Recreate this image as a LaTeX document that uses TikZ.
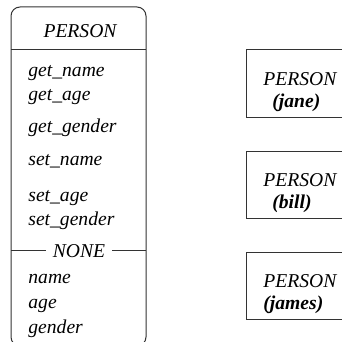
\documentclass[tikz,border=0pt]{standalone}
\usepackage{fontspec}
\setmainfont{Liberation Serif}
\usepackage{tikz}

\begin{document}
\begin{tikzpicture}[x=0.5pt,y=-0.5pt,
  boxline/.style={draw=black!80,line width=0.5pt},
  entry/.style={anchor=base west,inner sep=0pt,font=\fontsize{9.8}{12}\selectfont\itshape},
  objname/.style={entry,font=\fontsize{9.8}{12}\selectfont\bfseries\itshape}]
\useasboundingbox (0,0) rectangle (342,342);

% class box
\draw[boxline,rounded corners=4.5pt] (11,7) rectangle (146,346);
\coordinate (cl) at (11,0);
\coordinate (cr) at (146,0);
\node[entry,anchor=base] (title) at (80,38) {PERSON};
\draw[boxline] (11,50) -- (146,50);

\foreach \y/\m [count=\i] in {76/get\_name,100/get\_age,133/get\_gender,
                              165/set\_name,201/set\_age,225/set\_gender}
  \node[entry] (op\i) at (28,\y) {\m};

\node[entry,anchor=base,inner sep=3.3pt] (none) at (79,257) {NONE};
\draw[boxline] (none.west) -- (none.west -| cl);
\draw[boxline] (none.east) -- (none.east -| cr);

\foreach \y/\a in {283/name,308/age,333/gender}
  \node[entry] (\a) at (28,\y) {\a};

% objects
\foreach \t/\nm/\x in {50/jane/272,151/bill/272,252/james/263}{
  \draw[boxline] (246,\t) rectangle +(110,67);
  \node[entry] (\nm-cls) at (263,\t+35) {PERSON};
  \node[objname] (\nm) at (\x,\t+57) {(\nm)};
}
\end{tikzpicture}
\end{document}
